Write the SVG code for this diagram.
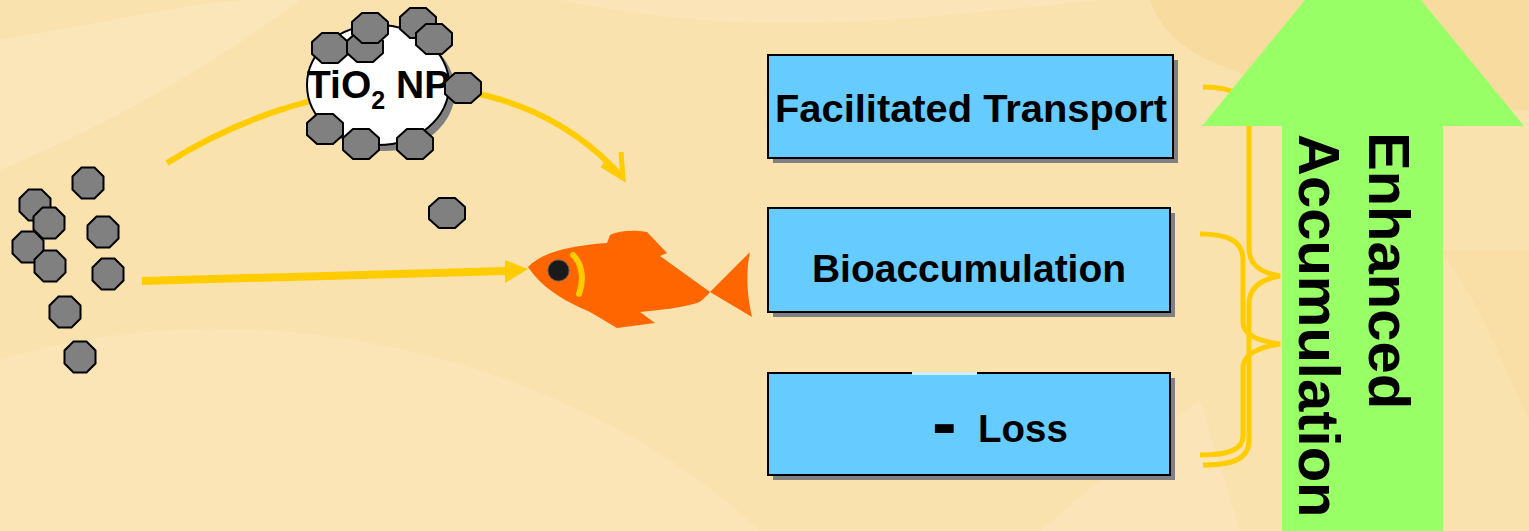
<svg xmlns="http://www.w3.org/2000/svg" width="1529" height="531" viewBox="0 0 1529 531">
  <defs>
    <style>
      .lbl { font-family: "Liberation Sans", Arial, sans-serif; font-weight: bold; fill: #000; }
      .box { fill: #66CCFF; stroke: #000; stroke-width: 2; }
      .shadow { fill: #808080; }
      .oct { fill: #808080; stroke: #000; stroke-width: 2; stroke-linejoin: miter; }
      .flow { fill: none; stroke: #FFCC00; stroke-linecap: butt; }
      .brace { fill: none; stroke: #FFCC00; stroke-width: 5; }
    </style>
    <!-- particle shapes -->
    <polygon id="oct" class="oct" points="-6.5,-15.5 6.5,-15.5 15.5,-6.5 15.5,6.5 6.5,15.5 -6.5,15.5 -15.5,6.5 -15.5,-6.5"/>
    <polygon id="octw" class="oct" points="-8,-15 8,-15 18,-6 18,6 8,15 -8,15 -18,6 -18,-6"/>
  </defs>

  <!-- background -->
  <g id="background">
    <rect width="1529" height="531" fill="#F9E2AE"/>
    <path d="M0,40 C120,20 200,0 260,0 L300,0 C220,60 120,120 0,170 Z" fill="#FBE8BE" opacity="0.7"/>
    <path d="M0,360 C200,300 420,330 600,420 C700,470 760,531 760,531 L0,531 Z" fill="#FBE7BA" opacity="0.6"/>
    <path d="M560,0 C760,40 900,20 1100,0 Z" fill="#FBE8BE" opacity="0.6"/>
    <path d="M1150,0 C1170,60 1250,100 1529,110 L1529,0 Z" fill="#F7D999" opacity="0.7"/>
    <path d="M1040,531 C1100,480 1160,430 1200,400 L1240,531 Z" fill="#FBE8BE" opacity="0.6"/>
    <path d="M1440,250 C1480,300 1510,380 1529,420 L1529,250 Z" fill="#F8DCA0" opacity="0.6"/>
  </g>

  <!-- connectors -->
  <g id="connectors">
    <path class="flow" stroke-width="6" d="M167,163 C300,80 500,40 623,178"/>
    <path class="flow" stroke-width="5" stroke-linejoin="miter" d="M602,165 L623,178 L621,152"/>
    <path class="flow" stroke-width="8" d="M142,281 L506,271"/>
    <polygon fill="#FFCC00" points="505,260 528,269 505,283"/>
  </g>

  <!-- free particles -->
  <g id="particles">
    <use href="#oct" x="88" y="183"/>
    <use href="#oct" x="35" y="205"/>
    <use href="#oct" x="49" y="223"/>
    <use href="#oct" x="103" y="232"/>
    <use href="#oct" x="28" y="247"/>
    <use href="#oct" x="50" y="266"/>
    <use href="#oct" x="108" y="274"/>
    <use href="#oct" x="65" y="312"/>
    <use href="#oct" x="80" y="357"/>
    <use href="#octw" x="447" y="213"/>
  </g>

  <!-- TiO2 nanoparticle with adsorbed particles -->
  <g id="tio2-np">
    <ellipse cx="384" cy="91" rx="71" ry="60" fill="#808080"/>
    <ellipse cx="378" cy="85" rx="71" ry="60" fill="#fff" stroke="#000" stroke-width="2"/>
    <use href="#octw" x="330" y="48"/>
    <use href="#octw" x="365" y="47"/>
    <use href="#octw" x="370" y="28"/>
    <use href="#octw" x="418" y="23"/>
    <use href="#octw" x="434" y="39"/>
    <text class="lbl" x="307" y="98" font-size="39">TiO<tspan font-size="25" dy="11">2</tspan><tspan dy="-11"> NP</tspan></text>
    <use href="#octw" x="463" y="88"/>
    <use href="#octw" x="325" y="129"/>
    <use href="#octw" x="361" y="144"/>
    <use href="#octw" x="415" y="144"/>
  </g>

  <!-- fish -->
  <g id="fish">
    <path fill="#FF6600" d="M528,267 C540,254 565,246 607,243 L610,235 C620,230 635,230 647,232 L667,253 L660,256 L710,292 L750,252 C745,275 748,300 752,317 L710,292 C705,298 700,302 697,303 C680,308 660,310 640,312 L655,323 L617,328 L590,312 C570,303 545,292 528,267 Z"/>
    <path d="M573,255 C581,263 585,277 579,294" fill="none" stroke="#FFCC00" stroke-width="6" stroke-linecap="round"/>
    <circle cx="558.5" cy="270.5" r="10.5" fill="#1A1A1A" stroke="#555" stroke-width="1"/>
  </g>

  <!-- braces grouping the three processes -->
  <g id="braces">
    <path class="brace" d="M1203,87 C1235,87 1249,97 1249,118 L1249,248 C1249,266 1262,273 1280,276 C1262,279 1249,287 1249,304 L1249,440 C1249,458 1235,465 1203,465"/>
    <path class="brace" d="M1200,234 C1230,234 1243,242 1243,260 L1243,322 C1243,336 1260,341 1280,344 C1260,347 1243,354 1243,368 L1243,436 C1243,449 1230,455 1200,455"/>
  </g>

  <!-- process boxes -->
  <g id="box-facilitated-transport">
    <rect class="shadow" x="773" y="60" width="405" height="103"/>
    <rect class="box" x="768" y="55" width="405" height="103"/>
    <text class="lbl" x="775" y="122" font-size="38" textLength="392" lengthAdjust="spacingAndGlyphs">Facilitated Transport</text>
  </g>

  <g id="box-bioaccumulation">
    <rect class="shadow" x="773" y="213" width="402" height="104"/>
    <rect class="box" x="768" y="208" width="402" height="104"/>
    <text class="lbl" x="969" y="282" font-size="39" text-anchor="middle">Bioaccumulation</text>
  </g>

  <g id="box-loss">
    <rect class="shadow" x="773" y="378" width="402" height="102"/>
    <rect class="box" x="768" y="373" width="402" height="102"/>
    <rect x="912" y="372" width="65" height="3" fill="#CFEEFF"/>
    <text class="lbl" x="932" y="448" font-size="74">-</text>
    <text class="lbl" x="978" y="442" font-size="38.5">Loss</text>
  </g>

  <!-- overall outcome arrow -->
  <g id="enhanced-accumulation">
    <polygon fill="#99FF66" points="1282,531 1282,126 1202,126 1363,-71 1524,126 1443,126 1443,531"/>
    <text class="lbl" font-size="58" transform="translate(1369,132) rotate(90)">Enhanced</text>
    <text class="lbl" font-size="58" transform="translate(1299,134) rotate(90)">Accumulation</text>
  </g>
</svg>
